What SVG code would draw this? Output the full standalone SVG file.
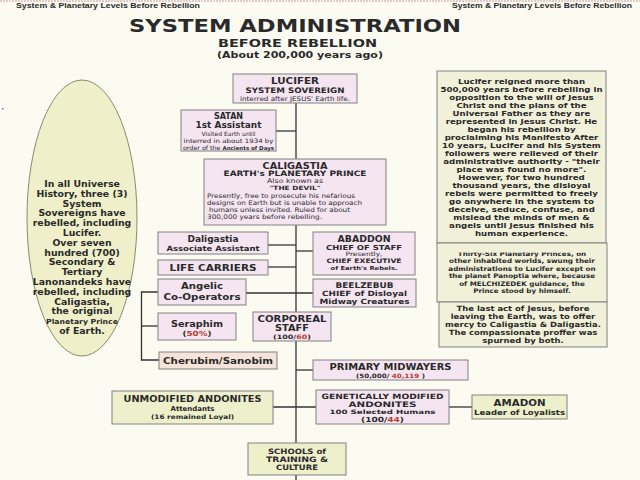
<svg xmlns="http://www.w3.org/2000/svg" width="640" height="480" viewBox="0 0 640 480">
<style>
.bg{fill:#fbfbf2}
.pk{fill:#f4e5f1;stroke:#808080;stroke-width:1}
.gr{fill:#eef0cc;stroke:#808080;stroke-width:1}
.nt{fill:#f1f1da;stroke:#808080;stroke-width:1}
.ch{fill:#f6e3da;stroke:#808080;stroke-width:1}
.el{fill:#eff0c9;stroke:#8a8a70;stroke-width:1}
text{font-family:"DejaVu Sans",Verdana,sans-serif;fill:#2a2a2a;text-anchor:middle}
.b{font-weight:bold}
.a{font-family:"Liberation Sans",Arial,sans-serif;font-weight:bold}
.r{fill:#c0392b}
.lt{text-anchor:start}
#connectors path{fill:none;stroke:#333;stroke-width:1.3}
</style>
<rect class="bg" x="0" y="0" width="640" height="480"/>
<line x1="0" y1="1" x2="640" y2="1" stroke="#c99" stroke-width="1" stroke-dasharray="2,1"/>
<text class="a lt" x="16" y="8" font-size="7.5" textLength="184" lengthAdjust="spacingAndGlyphs">System &amp; Planetary Levels Before Rebellion</text>
<text class="a lt" x="452" y="8" font-size="7.5" textLength="180" lengthAdjust="spacingAndGlyphs">System &amp; Planetary Levels Before Rebellion</text>
<text class="b" x="295" y="32" font-size="18" fill="#222" textLength="332" lengthAdjust="spacingAndGlyphs">SYSTEM ADMINISTRATION</text>
<text class="b" x="297.5" y="47" font-size="10.5" textLength="159" lengthAdjust="spacingAndGlyphs">BEFORE REBELLION</text>
<text class="b" x="300" y="58" font-size="9.4" textLength="166" lengthAdjust="spacingAndGlyphs">(About 200,000 years ago)</text>
<rect x="2" y="108" width="1.5" height="1.5" fill="#6a7ab0"/>

<g id="connectors">
<path d="M296 103V480"/>
<path d="M276 131H296"/>
<path d="M268 245H296"/>
<path d="M268 267H296"/>
<path d="M296 251H313"/>
<path d="M246 293H313"/>
<path d="M158 292H141.5V360H159"/>
<path d="M141.5 326H158"/>
<path d="M296 370H313"/>
<path d="M273 407H316"/>
<path d="M449 407H472"/>
</g>

<g id="ellipse-note">
<ellipse class="el" cx="82" cy="218" rx="55" ry="138"/>
<g class="a" font-size="8.5" transform="matrix(1.1 0 0 1 -8.2 0)">
<text x="82" y="187">In all Universe</text>
<text x="82" y="196.8">History, three (3)</text>
<text x="82" y="206.6">System</text>
<text x="82" y="216.4">Sovereigns have</text>
<text x="82" y="226.2">rebelled, including</text>
<text x="82" y="236">Lucifer.</text>
<text x="82" y="245.8">Over seven</text>
<text x="82" y="255.6">hundred (700)</text>
<text x="82" y="265.4">Secondary &amp;</text>
<text x="82" y="275.2">Tertiary</text>
<text x="82" y="285">Lanonandeks have</text>
<text x="82" y="294.8">rebelled, including</text>
<text x="82" y="304.6">Caligastia,</text>
<text x="82" y="314.4">the original</text>
<text x="82" y="324.2" font-size="7">Planetary Prince</text>
<text x="82" y="334">of Earth.</text>
</g>
</g>

<g id="lucifer">
<rect class="pk" x="233" y="74" width="124" height="29"/>
<text class="b" x="295" y="84" font-size="9" textLength="48" lengthAdjust="spacingAndGlyphs">LUCIFER</text>
<text class="b" x="295" y="92.5" font-size="7.6" textLength="99" lengthAdjust="spacingAndGlyphs">SYSTEM SOVEREIGN</text>
<text x="295" y="100.5" font-size="6.3" textLength="110" lengthAdjust="spacingAndGlyphs">interred after JESUS' Earth life.</text>
</g>

<g id="satan">
<rect class="pk" x="181" y="110" width="95" height="41"/>
<text class="b" x="228.5" y="119" font-size="8">SATAN</text>
<text class="b" x="228.5" y="127.5" font-size="8" textLength="66" lengthAdjust="spacingAndGlyphs">1st Assistant</text>
<text x="228.5" y="135.5" font-size="6" textLength="54" lengthAdjust="spacingAndGlyphs">Visited Earth until</text>
<text x="228.5" y="142.5" font-size="6" textLength="90" lengthAdjust="spacingAndGlyphs">interred in about 1934 by</text>
<text x="228.5" y="149.5" font-size="6" textLength="91" lengthAdjust="spacingAndGlyphs">order of the <tspan class="b" font-size="5.2">Ancients of Days</tspan></text>
</g>

<g id="caligastia">
<rect class="pk" x="204" y="159" width="182" height="66"/>
<text class="b" x="295" y="168.5" font-size="8.8" textLength="65" lengthAdjust="spacingAndGlyphs">CALIGASTIA</text>
<text class="b" x="295" y="176" font-size="7.4" textLength="143" lengthAdjust="spacingAndGlyphs">EARTH's PLANETARY PRINCE</text>
<text x="295" y="182.6" font-size="6.4" textLength="56" lengthAdjust="spacingAndGlyphs">Also known as</text>
<text class="b" x="295" y="189.6" font-size="5.8" textLength="51" lengthAdjust="spacingAndGlyphs">"THE DEVIL"</text>
<text class="lt" x="207" y="198.3" font-size="6.3" textLength="148" lengthAdjust="spacingAndGlyphs">Presently, free to prosecute his nefarious</text>
<text class="lt" x="207" y="205.2" font-size="6.3" textLength="155" lengthAdjust="spacingAndGlyphs">designs on Earth but is unable to approach</text>
<text class="lt" x="209" y="212.1" font-size="6.3" textLength="141" lengthAdjust="spacingAndGlyphs">humans unless invited.  Ruled for about</text>
<text class="lt" x="207" y="219" font-size="6.3" textLength="115" lengthAdjust="spacingAndGlyphs">300,000 years before rebelling.</text>
</g>

<g id="note-lucifer">
<rect class="nt" x="437" y="71" width="169" height="172"/>
<g class="b" font-size="7.5" transform="matrix(1.15 0 0 1 -78.23 0)">
<text x="521.5" y="84.3">Lucifer reigned more than</text>
<text x="521.5" y="92.3">500,000 years before rebelling in</text>
<text x="521.5" y="100.2">opposition to the will of Jesus</text>
<text x="521.5" y="108.2">Christ and the plans of the</text>
<text x="521.5" y="116.2">Universal Father as they are</text>
<text x="521.5" y="124.2">represented in Jesus Christ. He</text>
<text x="521.5" y="132.1">began his rebellion by</text>
<text x="521.5" y="140.1">proclaiming his Manifesto  After</text>
<text x="521.5" y="148.1">10 years, Lucifer and his System</text>
<text x="521.5" y="156">followers were relieved of their</text>
<text x="521.5" y="164">administrative authority - "their</text>
<text x="521.5" y="172">place was found no more".</text>
<text x="521.5" y="180">However, for two hundred</text>
<text x="521.5" y="187.9">thousand years, the disloyal</text>
<text x="521.5" y="195.9">rebels were permitted to freely</text>
<text x="521.5" y="203.9">go anywhere in the system to</text>
<text x="521.5" y="211.8">deceive, seduce, confuse, and</text>
<text x="521.5" y="219.8">mislead the minds of men &amp;</text>
<text x="521.5" y="227.8">angels until Jesus finished his</text>
<text x="521.5" y="235.7">human experience.</text>
</g>
</g>

<g id="note-princes">
<defs><clipPath id="cp"><rect x="380" y="252.5" width="260" height="52"/></clipPath></defs>
<rect class="nt" x="437" y="243" width="170" height="59"/>
<g class="b" font-size="6.3" transform="matrix(1.14 0 0 1 -73.08 0)">
<text x="522" y="256" clip-path="url(#cp)">Thirty-Six Planetary Princes, on</text>
<text x="522" y="263.5">other inhabited worlds, swung their</text>
<text x="522" y="271">administrations to Lucifer except on</text>
<text x="522" y="278.5">the planet Panoptia where, because</text>
<text x="522" y="286">of MELCHIZEDEK guidance, the</text>
<text x="522" y="293.5">Prince stood by himself.</text>
</g>
</g>

<g id="note-jesus">
<rect class="nt" x="439" y="302" width="168" height="45"/>
<g class="b" font-size="7.2" transform="matrix(1.17 0 0 1 -88.91 0)">
<text x="523" y="311">The last act of Jesus, before</text>
<text x="523" y="319">leaving the Earth, was to offer</text>
<text x="523" y="327">mercy to Caligastia &amp; Daligastia.</text>
<text x="523" y="335">The compassionate proffer was</text>
<text x="523" y="343">spurned by both.</text>
</g>
</g>

<g id="daligastia">
<rect class="pk" x="158" y="232" width="110" height="22"/>
<text class="b" x="213" y="242.3" font-size="8.2" textLength="51" lengthAdjust="spacingAndGlyphs">Daligastia</text>
<text class="b" x="213" y="250.7" font-size="7.3" textLength="93" lengthAdjust="spacingAndGlyphs">Associate Assistant</text>
</g>

<g id="life-carriers">
<rect class="pk" x="158" y="260" width="110" height="15"/>
<text class="b" x="213" y="271" font-size="9.2" textLength="87" lengthAdjust="spacingAndGlyphs">LIFE CARRIERS</text>
</g>

<g id="abaddon">
<rect class="pk" x="313" y="232" width="102" height="43"/>
<text class="b" x="364" y="241.5" font-size="8.2" textLength="53" lengthAdjust="spacingAndGlyphs">ABADDON</text>
<text class="b" x="364" y="249.5" font-size="6.8" textLength="76" lengthAdjust="spacingAndGlyphs">CHIEF OF STAFF</text>
<text x="364" y="256.3" font-size="6" textLength="37" lengthAdjust="spacingAndGlyphs">Presently,</text>
<text class="b" x="364" y="263.3" font-size="6.2" textLength="75" lengthAdjust="spacingAndGlyphs">CHIEF EXECUTIVE</text>
<text class="b" x="364" y="270.2" font-size="5.4" textLength="67" lengthAdjust="spacingAndGlyphs">of  Earth's Rebels.</text>
</g>

<g id="angelic">
<rect class="pk" x="158" y="279" width="88" height="26"/>
<text class="b" x="202" y="289.3" font-size="9" textLength="42" lengthAdjust="spacingAndGlyphs">Angelic</text>
<text class="b" x="202" y="300" font-size="9" textLength="77" lengthAdjust="spacingAndGlyphs">Co-Operators</text>
</g>

<g id="beelzebub">
<rect class="pk" x="313" y="279" width="103" height="28"/>
<text class="b" x="364.5" y="288" font-size="7.8" textLength="58" lengthAdjust="spacingAndGlyphs">BEELZEBUB</text>
<text class="b" x="364.5" y="296.2" font-size="7.2" textLength="85" lengthAdjust="spacingAndGlyphs">CHIEF of Disloyal</text>
<text class="b" x="364.5" y="304.3" font-size="7.2" textLength="90" lengthAdjust="spacingAndGlyphs">Midway Creatures</text>
</g>

<g id="seraphim">
<rect class="pk" x="158" y="313" width="78" height="27"/>
<text class="b" x="197" y="326.5" font-size="8.6" textLength="52" lengthAdjust="spacingAndGlyphs">Seraphim</text>
<text class="b" x="197" y="335.5" font-size="7" textLength="29" lengthAdjust="spacingAndGlyphs">(<tspan class="r">50%</tspan>)</text>
</g>

<g id="corporeal">
<rect class="pk" x="253" y="312" width="78" height="29"/>
<text class="b" x="292" y="322.3" font-size="8.4" textLength="69" lengthAdjust="spacingAndGlyphs">CORPOREAL</text>
<text class="b" x="292" y="331.3" font-size="8.2" textLength="34" lengthAdjust="spacingAndGlyphs">STAFF</text>
<text class="b" x="292" y="339" font-size="6" textLength="38" lengthAdjust="spacingAndGlyphs">(100/<tspan class="r">60</tspan>)</text>
</g>

<g id="cherubim">
<rect class="ch" x="159" y="352" width="118" height="17"/>
<text class="b" x="218" y="364.3" font-size="9.2" textLength="110" lengthAdjust="spacingAndGlyphs">Cherubim/Sanobim</text>
</g>

<g id="primary-midwayers">
<rect class="pk" x="313" y="360" width="155" height="20"/>
<text class="b" x="390.5" y="369.5" font-size="8.4" textLength="122" lengthAdjust="spacingAndGlyphs">PRIMARY MIDWAYERS</text>
<text class="b" x="390.5" y="377.5" font-size="6" textLength="69" lengthAdjust="spacingAndGlyphs">(50,000/ <tspan class="r">40,119</tspan> )</text>
</g>

<g id="unmodified">
<rect class="gr" x="112" y="391" width="161" height="33"/>
<text class="b" x="192.5" y="402" font-size="8.4" textLength="138" lengthAdjust="spacingAndGlyphs">UNMODIFIED ANDONITES</text>
<text class="b" x="192.5" y="410.5" font-size="6.8" textLength="44" lengthAdjust="spacingAndGlyphs">Attendants</text>
<text class="b" x="192.5" y="418.7" font-size="6.2" textLength="83" lengthAdjust="spacingAndGlyphs">(16 remained Loyal)</text>
</g>

<g id="genetically">
<rect class="pk" x="316" y="390" width="133" height="34"/>
<text class="b" x="382.5" y="399" font-size="7.3" textLength="122" lengthAdjust="spacingAndGlyphs">GENETICALLY MODIFIED</text>
<text class="b" x="382.5" y="407.2" font-size="7.5" textLength="68" lengthAdjust="spacingAndGlyphs">ANDONITES</text>
<text class="b" x="382.5" y="414.2" font-size="6" textLength="106" lengthAdjust="spacingAndGlyphs">100 Selected Humans</text>
<text class="b" x="382.5" y="421.8" font-size="7" textLength="43" lengthAdjust="spacingAndGlyphs">(100/<tspan class="r">44</tspan>)</text>
</g>

<g id="amadon">
<rect class="gr" x="472" y="395" width="95" height="24"/>
<text class="b" x="519.5" y="406" font-size="8.8" textLength="52" lengthAdjust="spacingAndGlyphs">AMADON</text>
<text class="b" x="519.5" y="414.7" font-size="7.2" textLength="91" lengthAdjust="spacingAndGlyphs">Leader of Loyalists</text>
</g>

<g id="schools">
<rect class="gr" x="248" y="443" width="98" height="32"/>
<text class="b" x="297" y="454" font-size="7.4" textLength="58" lengthAdjust="spacingAndGlyphs">SCHOOLS of</text>
<text class="b" x="297" y="462" font-size="7.4" textLength="62" lengthAdjust="spacingAndGlyphs">TRAINING &amp;</text>
<text class="b" x="297" y="469.8" font-size="7.4" textLength="42" lengthAdjust="spacingAndGlyphs">CULTURE</text>
</g>
</svg>
